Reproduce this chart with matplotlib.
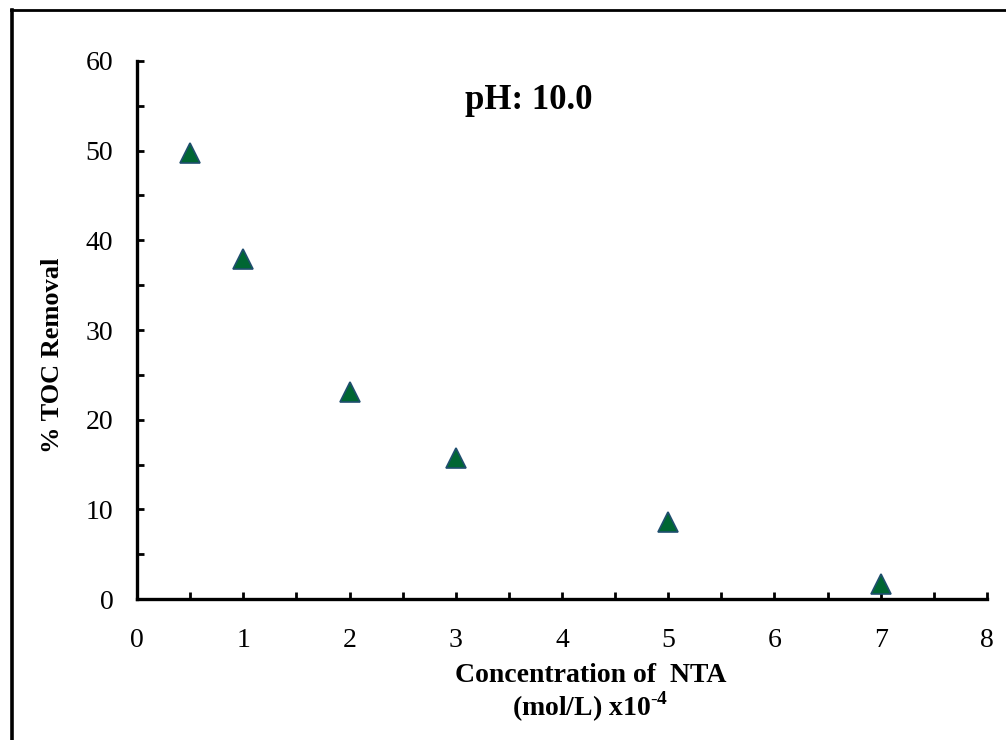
import numpy as np
import matplotlib.pyplot as plt
from matplotlib.lines import Line2D
from matplotlib.ticker import MultipleLocator

plt.rcParams['font.family'] = ['Liberation Serif', 'DejaVu Serif']
plt.rcParams['mathtext.fontset'] = 'custom'
plt.rcParams['mathtext.rm'] = 'Liberation Serif'
plt.rcParams['mathtext.bf'] = 'Liberation Serif:bold'

# NTA concentration (x10^-4 mol/L) and TOC removal at pH 10
conc = [0.5, 1, 2, 3, 5, 7]
toc_removal = [49.7, 37.9, 23.1, 15.7, 8.6, 1.7]

fig = plt.figure(figsize=(10.06, 7.40), dpi=100)
ax = fig.add_axes([0.1362, 0.1905, 0.8449, 0.7271])

ax.plot(conc, toc_removal, linestyle='none', marker='^', markersize=14,
        markerfacecolor='#006633', markeredgecolor='#1f4e6e', markeredgewidth=1.2,
        clip_on=False)

ax.set_xlim(0, 8)
ax.set_ylim(0, 60)
ax.xaxis.set_major_locator(MultipleLocator(1))
ax.xaxis.set_minor_locator(MultipleLocator(0.5))
ax.yaxis.set_major_locator(MultipleLocator(10))
ax.yaxis.set_minor_locator(MultipleLocator(5))

for side in ['top', 'right']:
    ax.spines[side].set_visible(False)
for side in ['left', 'bottom']:
    ax.spines[side].set_linewidth(2.4)

ax.tick_params(which='both', direction='in', length=5, width=2, labelsize=20)
ax.tick_params(axis='x', which='major', pad=21)
ax.tick_params(axis='y', which='major', pad=17)

ax.text(-0.1, 0.4535, '% TOC Removal', transform=ax.transAxes, rotation=90,
        ha='center', va='center', fontsize=19, fontweight='bold')
ax.text(0.5335, -0.1543, 'Concentration of  NTA', transform=ax.transAxes,
        ha='center', va='baseline', fontsize=20, fontweight='bold')
ax.text(0.5335, -0.2175, r'(mol/L) x10$^{\mathbf{\text{-}4}}$', transform=ax.transAxes,
        ha='center', va='baseline', fontsize=20, fontweight='bold')

ax.text(3.69, 54.7, 'pH: 10.0', ha='center', va='baseline',
        fontsize=25, fontweight='bold')

# outer frame, left and top edges only
fig.add_artist(Line2D([0.0119, 0.0119], [0, 0.9865], transform=fig.transFigure,
                      color='black', linewidth=2.6))
fig.add_artist(Line2D([0.0105, 1.0], [0.9865, 0.9865], transform=fig.transFigure,
                      color='black', linewidth=2.0))

fig.savefig('out.png', dpi=100)
